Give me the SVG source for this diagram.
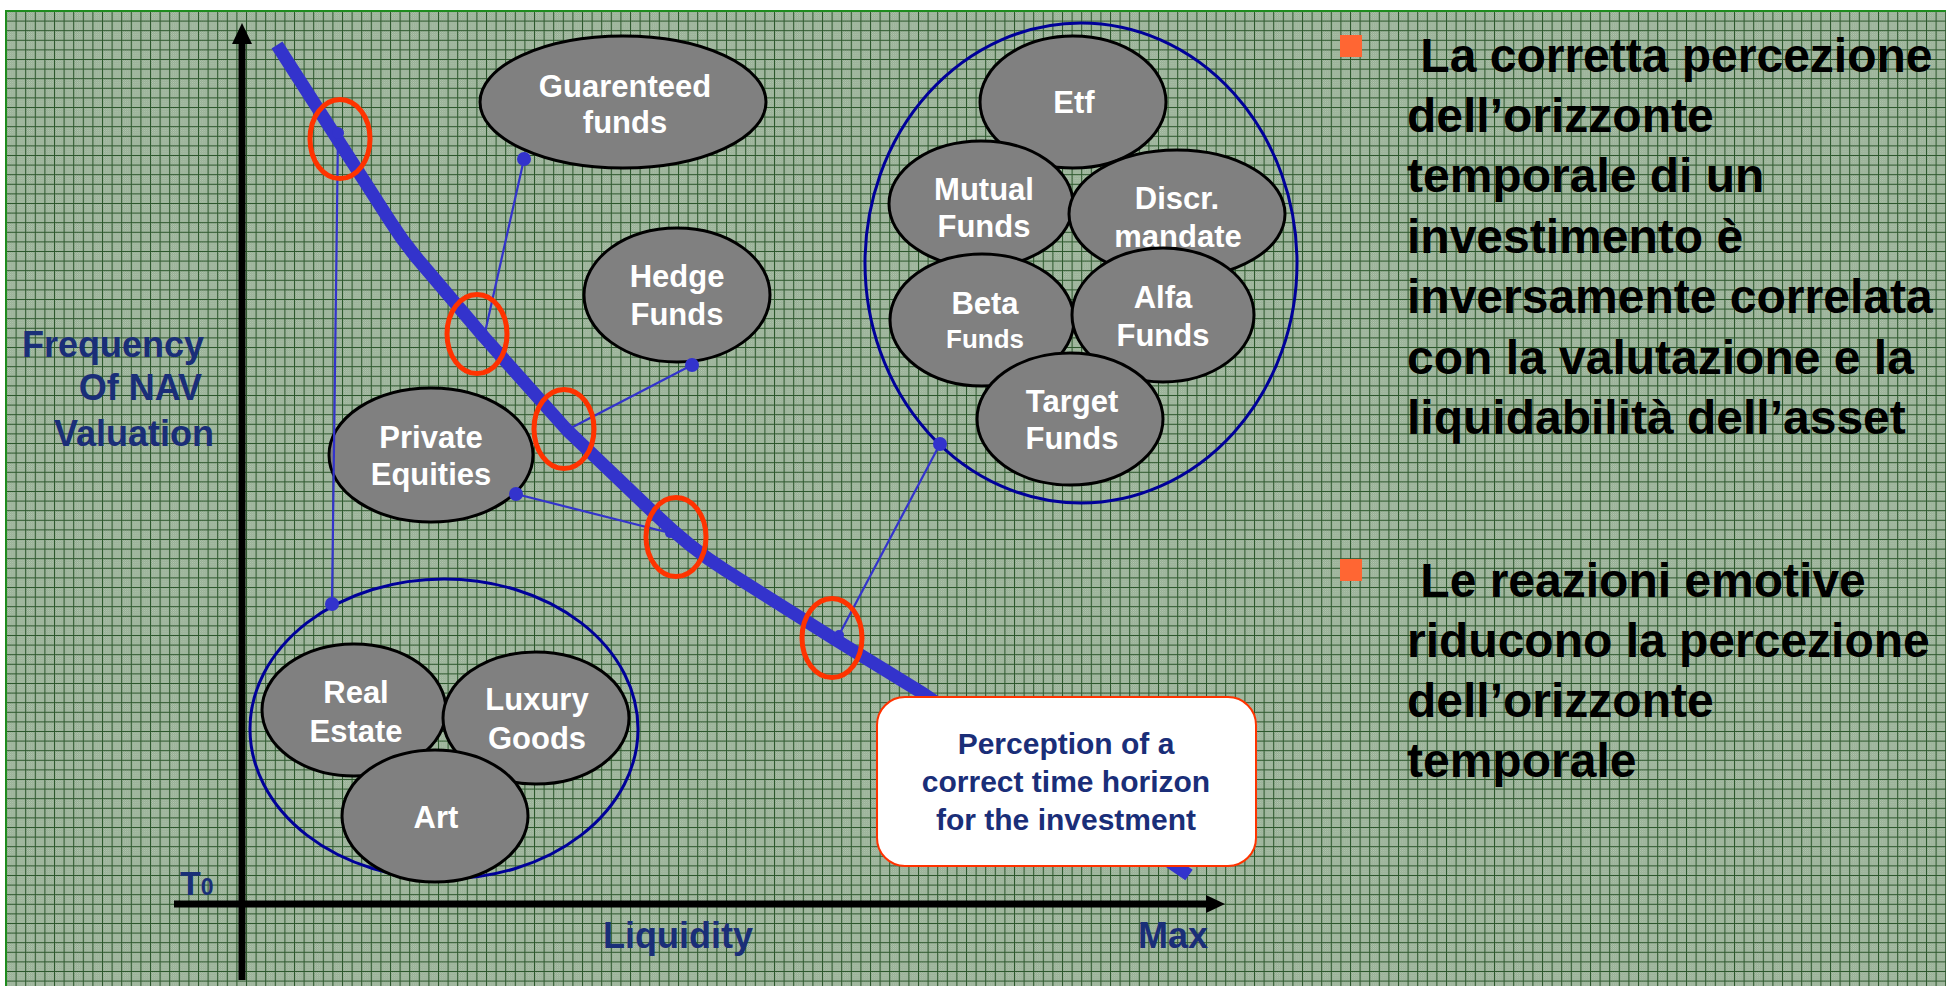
<svg xmlns="http://www.w3.org/2000/svg" width="1946" height="986" viewBox="0 0 1946 986">
<defs>
<pattern id="dots" width="2" height="2" patternUnits="userSpaceOnUse">
<rect width="2" height="2" fill="#86a184"/>
<rect width="1" height="1" fill="#b9cbb7"/>
<rect x="1" y="1" width="1" height="1" fill="#b9cbb7"/>
</pattern>
<pattern id="grid" x="6" y="11" width="9.6" height="9.6" patternUnits="userSpaceOnUse">
<rect width="9.6" height="9.6" fill="url(#dots)"/>
<path d="M0,0.5 H9.6 M0.5,0 V9.6" stroke="#2b562b" stroke-width="1"/>
</pattern>
<style>
.node ellipse{fill:#808080;stroke:#000;stroke-width:3}
.node text{fill:#fff;font-family:"Liberation Sans",Arial,sans-serif;font-weight:bold;font-size:31px;text-anchor:middle}
.grp{fill:none;stroke:#000099;stroke-width:3}
.conn line{stroke:#3333cc;stroke-width:2.2}
.conn circle{fill:#3333cc}
.ring{fill:none;stroke:#ff3300;stroke-width:5}
.lab{fill:#1a2e78;font-family:"Liberation Sans",Arial,sans-serif;font-weight:bold}
.bul{fill:#000;font-family:"Liberation Sans",Arial,sans-serif;font-weight:bold;font-size:48px}
.sq{fill:#ff6633}
</style>
</defs>

<!-- background -->
<rect width="1946" height="986" fill="#fff"/>
<rect x="6" y="11" width="1940" height="975" fill="url(#grid)"/>
<path d="M6,986 V11 H1946" fill="none" stroke="#1e8c1e" stroke-width="2"/>

<!-- axes -->
<g id="axes">
<line x1="242" y1="40" x2="242" y2="980" stroke="#000" stroke-width="7"/>
<polygon points="232,44 242,23 252,44" fill="#000"/>
<line x1="174" y1="904" x2="1210" y2="904" stroke="#000" stroke-width="7"/>
<polygon points="1206,895 1225,904 1206,913" fill="#000"/>
</g>

<!-- group outlines -->
<ellipse class="grp" cx="444" cy="729" rx="194" ry="150"/>
<ellipse class="grp" cx="1081" cy="263" rx="216" ry="240"/>

<!-- curve -->
<path id="curve" d="M277,45 L390,221 Q402,240 416,257 L484,337 L567,430 L655,514 Q690,548 725,570 L836,640 L924,694 L1189,875" fill="none" stroke="#3333cc" stroke-width="13" stroke-linejoin="round"/>

<!-- nodes -->
<g id="guarenteed" class="node"><ellipse cx="623" cy="102" rx="143" ry="66"/><text x="625" y="97">Guarenteed</text><text x="625" y="133">funds</text></g>
<g id="hedge" class="node"><ellipse cx="677" cy="295" rx="93" ry="67"/><text x="677" y="287">Hedge</text><text x="677" y="325">Funds</text></g>
<g id="private" class="node"><ellipse cx="431" cy="455" rx="102" ry="67"/><text x="431" y="448">Private</text><text x="431" y="485">Equities</text></g>

<g id="realestate" class="node"><ellipse cx="354" cy="710" rx="92" ry="66"/><text x="356" y="703">Real</text><text x="356" y="742">Estate</text></g>
<g id="luxury" class="node"><ellipse cx="536" cy="718" rx="93" ry="66"/><text x="537" y="710">Luxury</text><text x="537" y="749">Goods</text></g>
<g id="art" class="node"><ellipse cx="435" cy="816" rx="93" ry="66"/><text x="436" y="828">Art</text></g>

<g id="etf" class="node"><ellipse cx="1073" cy="102" rx="93" ry="66"/><text x="1074" y="113">Etf</text></g>
<g id="mutual" class="node"><ellipse cx="981" cy="204" rx="92" ry="63"/><text x="984" y="200">Mutual</text><text x="984" y="237">Funds</text></g>
<g id="discr" class="node"><ellipse cx="1177" cy="214" rx="108" ry="64"/><text x="1177" y="209">Discr.</text><text x="1178" y="247">mandate</text></g>
<g id="beta" class="node"><ellipse cx="982" cy="320" rx="92" ry="66"/><text x="985" y="314">Beta</text><text x="985" y="348" style="font-size:26px">Funds</text></g>
<g id="alfa" class="node"><ellipse cx="1163" cy="315" rx="91" ry="67"/><text x="1163" y="308">Alfa</text><text x="1163" y="346">Funds</text></g>
<g id="target" class="node"><ellipse cx="1070" cy="419" rx="93" ry="66"/><text x="1072" y="412">Target</text><text x="1072" y="449">Funds</text></g>

<!-- connectors -->
<g id="connectors" class="conn">
<line x1="338" y1="133" x2="332" y2="604"/>
<line x1="524" y1="159" x2="484" y2="337"/>
<line x1="692" y1="365" x2="567" y2="430"/>
<line x1="516" y1="494" x2="670" y2="533"/>
<line x1="940" y1="444" x2="839" y2="635"/>
<circle cx="338" cy="133" r="6"/>
<circle cx="332" cy="604" r="7"/>
<circle cx="524" cy="159" r="7"/>
<circle cx="484" cy="337" r="5"/>
<circle cx="692" cy="365" r="7"/>
<circle cx="567" cy="430" r="5"/>
<circle cx="516" cy="494" r="7"/>
<circle cx="670" cy="533" r="5"/>
<circle cx="940" cy="444" r="7"/>
<circle cx="839" cy="635" r="5"/>
</g>

<!-- red rings -->
<g id="rings">
<ellipse class="ring" cx="340" cy="139" rx="30" ry="39.5"/>
<ellipse class="ring" cx="477" cy="334" rx="30" ry="39.5"/>
<ellipse class="ring" cx="564" cy="429" rx="30" ry="39.5"/>
<ellipse class="ring" cx="676" cy="537" rx="30" ry="39.5"/>
<ellipse class="ring" cx="832" cy="638" rx="30" ry="39.5"/>
</g>

<!-- callout -->
<g id="callout">
<rect x="877" y="697" width="379" height="169" rx="28" ry="28" fill="#fff" stroke="#ff3300" stroke-width="2"/>
<text class="lab" x="1066" y="754" text-anchor="middle" font-size="30">Perception of a</text>
<text class="lab" x="1066" y="792" text-anchor="middle" font-size="30">correct time horizon</text>
<text class="lab" x="1066" y="830" text-anchor="middle" font-size="30">for the investment</text>
</g>

<!-- axis labels -->
<g id="axis-labels">
<text class="lab" x="204" y="357" text-anchor="end" font-size="36">Frequency</text>
<text class="lab" x="202" y="400" text-anchor="end" font-size="36">Of NAV</text>
<text class="lab" x="214" y="446" text-anchor="end" font-size="36">Valuation</text>
<text class="lab" x="180" y="895" font-size="34">T<tspan font-size="23">0</tspan></text>
<text class="lab" x="678" y="948" text-anchor="middle" font-size="36">Liquidity</text>
<text class="lab" x="1173" y="948" text-anchor="middle" font-size="36">Max</text>
</g>

<!-- bullets -->
<g id="bullet1">
<rect class="sq" x="1340" y="35" width="22" height="22"/>
<text class="bul" x="1407" y="72" xml:space="preserve"> La corretta percezione</text>
<text class="bul" x="1407" y="132">dell’orizzonte</text>
<text class="bul" x="1407" y="192">temporale di un</text>
<text class="bul" x="1407" y="253">investimento è</text>
<text class="bul" x="1407" y="313">inversamente correlata</text>
<text class="bul" x="1407" y="374">con la valutazione e la</text>
<text class="bul" x="1407" y="434">liquidabilità dell’asset</text>
</g>
<g id="bullet2">
<rect class="sq" x="1340" y="559" width="22" height="22"/>
<text class="bul" x="1407" y="597" xml:space="preserve"> Le reazioni emotive</text>
<text class="bul" x="1407" y="657">riducono la percezione</text>
<text class="bul" x="1407" y="717">dell’orizzonte</text>
<text class="bul" x="1407" y="777">temporale</text>
</g>
</svg>
